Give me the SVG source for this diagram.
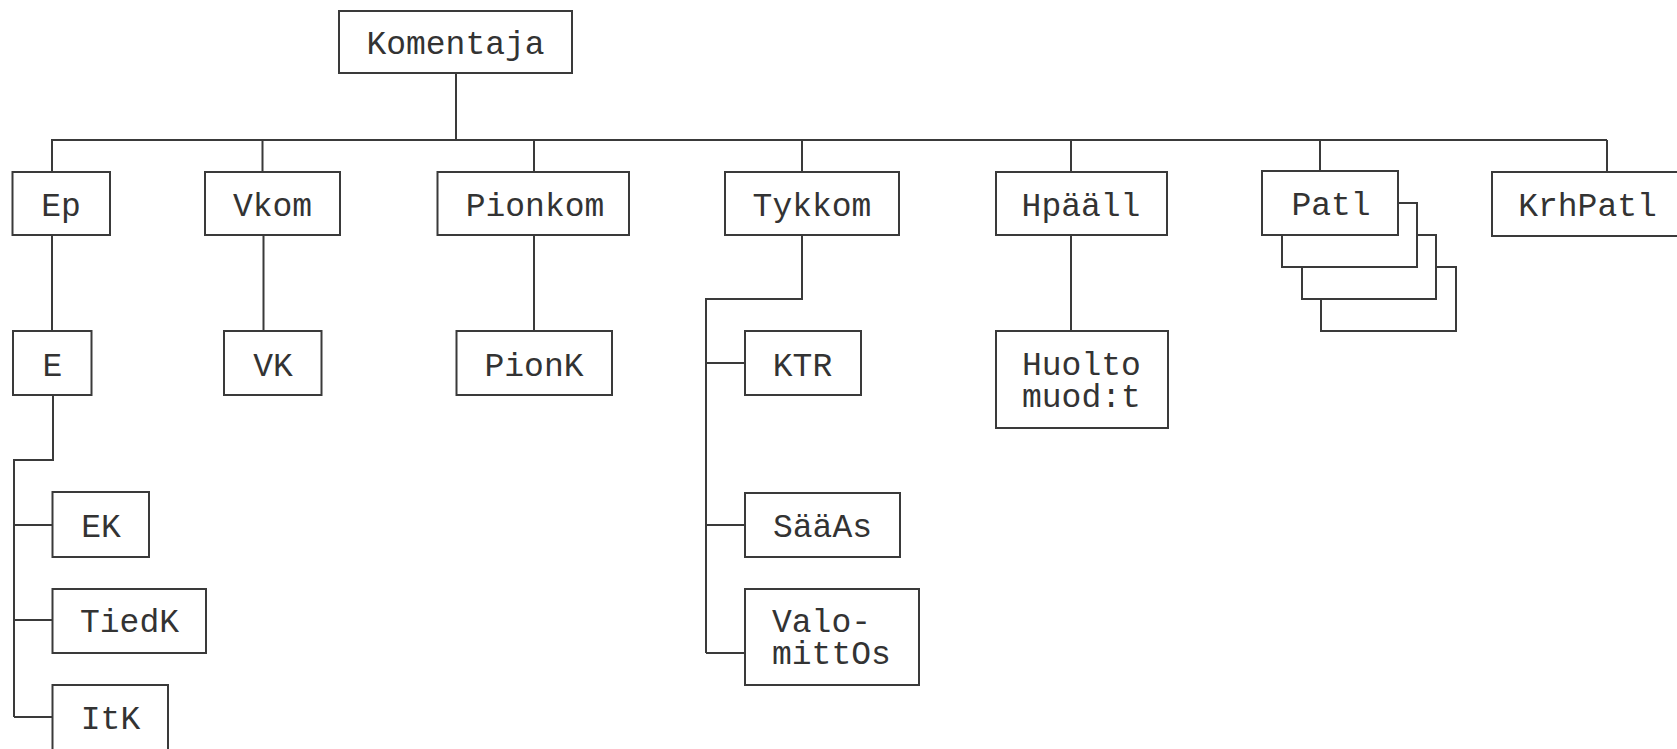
<svg xmlns="http://www.w3.org/2000/svg" width="1677" height="749" viewBox="0 0 1677 749">
<style>
rect{fill:#fff;stroke:#3a3a3a;stroke-width:2}
.c path{fill:none;stroke:#3a3a3a;stroke-width:2}
text{font-family:"Liberation Mono","Courier New",monospace;font-size:33px;fill:#333}
.m{text-anchor:middle}
</style>
<rect x="0" y="0" width="1677" height="749" style="fill:#fff;stroke:none"/>
<g class="c" id="connectors">
<path d="M456 73V140M51 140H1607M52 140V172M262.5 140V172M534 140V172M802 140V172M1071 140V172M1320 140V171M1607 140V172"/>
<path d="M52 235V331M53 395V460H14V717M14 525H52.5M14 620H52.5M14 717H52.5"/>
<path d="M263.5 235V331M534 235V331"/>
<path d="M802 235V299H706V653M706 363H745M706 525H745M706 653H745"/>
<path d="M1071 235V331"/>
</g>
<g id="n-komentaja"><rect x="339" y="11" width="233" height="62"/><text class="m" x="455.5" y="54">Komentaja</text></g>
<g id="n-ep"><rect x="12.5" y="172" width="97.5" height="63"/><text class="m" x="61" y="216">Ep</text></g>
<g id="n-vkom"><rect x="205" y="172" width="135" height="63"/><text class="m" x="272.5" y="216">Vkom</text></g>
<g id="n-pionkom"><rect x="437.5" y="172" width="191.5" height="63"/><text class="m" x="535" y="216">Pionkom</text></g>
<g id="n-tykkom"><rect x="725" y="172" width="174" height="63"/><text class="m" x="812" y="216">Tykkom</text></g>
<g id="n-hpaall"><rect x="996" y="172" width="171" height="63"/><text class="m" x="1081" y="216">Hpääll</text></g>
<g id="n-patl">
<rect x="1321" y="267" width="135" height="64"/>
<rect x="1302" y="235" width="134" height="64"/>
<rect x="1282" y="203" width="135" height="64"/>
<rect x="1262" y="171" width="136" height="64"/>
<text class="m" x="1331" y="215">Patl</text></g>
<g id="n-krhpatl"><rect x="1492" y="172" width="191" height="64"/><text class="m" x="1587.5" y="216">KrhPatl</text></g>
<g id="n-e"><rect x="13" y="331" width="78.5" height="64"/><text class="m" x="52.5" y="376">E</text></g>
<g id="n-vk"><rect x="224" y="331" width="97.5" height="64"/><text class="m" x="273" y="376">VK</text></g>
<g id="n-pionk"><rect x="456.5" y="331" width="155.5" height="64"/><text class="m" x="534" y="376">PionK</text></g>
<g id="n-ktr"><rect x="745" y="331" width="116" height="64"/><text class="m" x="802.5" y="376">KTR</text></g>
<g id="n-huolto"><rect x="996" y="331" width="172" height="97"/><text x="1022" y="375">Huolto</text><text x="1022" y="407">muod:t</text></g>
<g id="n-ek"><rect x="52.5" y="492" width="96.5" height="65"/><text class="m" x="101" y="537">EK</text></g>
<g id="n-tiedk"><rect x="52.5" y="589" width="153.5" height="64"/><text class="m" x="129.5" y="632">TiedK</text></g>
<g id="n-itk"><rect x="52.5" y="685" width="115.5" height="70"/><text class="m" x="110.5" y="729">ItK</text></g>
<g id="n-saaas"><rect x="745" y="493" width="155" height="64"/><text class="m" x="822.5" y="537">SääAs</text></g>
<g id="n-valomittos"><rect x="745" y="589" width="174" height="96"/><text x="772" y="632">Valo-</text><text x="772" y="664">mittOs</text></g>
</svg>
